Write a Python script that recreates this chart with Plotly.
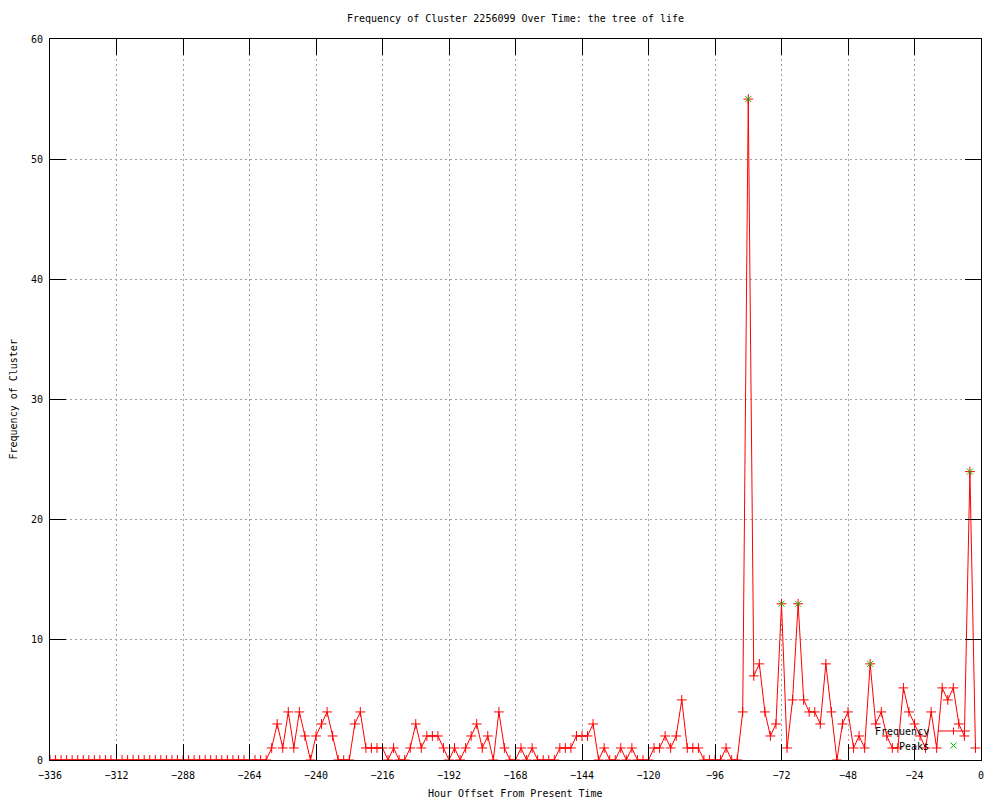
import plotly.graph_objects as go

# Hour offsets (every 2 hours, -336 .. -2)
hours = list(range(-336, 0, 2))

# Frequency of cluster per 2-hour bin
frequency = (
    [0] * 40 +
    [1, 3, 1, 4, 1, 4, 2, 0, 2, 3, 4, 2, 0, 0, 0, 3, 4, 1, 1, 1,
     1, 0, 1, 0, 0, 1, 3, 1, 2, 2, 2, 1, 0, 1, 0, 1, 2, 3, 1, 2,
     0, 4, 1, 0, 0, 1, 0, 1, 0, 0, 0, 0, 1, 1, 1, 2, 2, 2, 3, 0,
     1, 0, 0, 1, 0, 1, 0, 0, 0, 1, 1, 2, 1, 2, 5, 1, 1, 1, 0, 0,
     0, 0, 1, 0, 0, 4, 55, 7, 8, 4, 2, 3, 13, 1, 5, 13, 5, 4, 4, 3,
     8, 4, 0, 3, 4, 1, 2, 1, 8, 3, 4, 2, 1, 1, 6, 4, 3, 2, 1, 4,
     1, 6, 5, 6, 3, 2, 24, 1]
)

# Detected peaks
peak_hours = [-84, -72, -66, -40, -4]
peak_values = [55, 13, 13, 8, 24]

x_ticks = list(range(-336, 1, 24))
y_ticks = list(range(0, 61, 10))

FONT = "DejaVu Sans Mono"
RED = "#ff0000"
GREEN = "#00c000"

fig = go.Figure()
fig.add_trace(go.Scatter(
    x=hours, y=frequency, mode="lines+markers", name="Frequency",
    line=dict(color=RED, width=1),
    marker=dict(symbol="cross-thin", size=7, line=dict(color=RED, width=1), color=RED),
    showlegend=False,
))
fig.add_trace(go.Scatter(
    x=peak_hours, y=peak_values, mode="markers", name="Peaks",
    marker=dict(symbol="x-thin", size=6, line=dict(color=GREEN, width=1), color=GREEN),
    showlegend=False,
))

# The page body has an 8px margin; the figure is sized so that the
# screen plot area falls at x 50..981, y 39..760.
OFF = 8
FW, FH = 1000 - OFF, 800 - OFF
PX0, PX1, PY0, PY1 = 50 - OFF, 981 - OFF, 39 - OFF, 760 - OFF
PW, PH = PX1 - PX0, PY1 - PY0

axis_common = dict(
    showline=True, linecolor="black", linewidth=1, mirror="allticks",
    ticks="inside", ticklen=16, tickcolor="black", tickwidth=1,
    showgrid=True, gridcolor="#a0a0a0", gridwidth=1, griddash="2px,3px",
    zeroline=False, tickfont=dict(family=FONT, size=10, color="black"),
)

fig.update_layout(
    width=FW, height=FH,
    margin=dict(l=PX0, r=FW - PX1, t=PY0, b=FH - PY1, autoexpand=False),
    paper_bgcolor="white", plot_bgcolor="white",
    font=dict(family=FONT, size=10, color="black"),
    title=dict(text="Frequency of Cluster 2256099 Over Time: the tree of life",
               x=0.5, xref="paper", xanchor="center",
               y=1 - (18 - OFF) / FH, yref="container", yanchor="middle",
               font=dict(family=FONT, size=10, color="black")),
    xaxis=dict(range=[-336, 0], tickvals=x_ticks, ticklabelstandoff=6, **axis_common),
    yaxis=dict(range=[0, 60], tickvals=y_ticks, ticklabelstandoff=4, **axis_common),
    showlegend=False,
)

# axis titles
fig.add_annotation(text="Hour Offset From Present Time", xref="paper", yref="paper",
                   x=0.5, y=0, yshift=-(793 - 760), xanchor="center", yanchor="middle",
                   showarrow=False, font=dict(family=FONT, size=10, color="black"))
fig.add_annotation(text="Frequency of Cluster", xref="paper", yref="paper",
                   x=0, y=0.5, xshift=13 - 50, xanchor="center", yanchor="middle",
                   textangle=-90, showarrow=False,
                   font=dict(family=FONT, size=10, color="black"))

# gnuplot-style key (text left, sample right); positions in screen pixels
def px_x(p):
    return (p - 50) / PW

def px_y(p):
    return (760 - p) / PH

key_rows = [("Frequency", 731.5), ("Peaks", 746)]
for label, yy in key_rows:
    fig.add_annotation(text=label, xref="paper", yref="paper",
                       x=px_x(931), y=px_y(yy), xanchor="right", yanchor="middle",
                       showarrow=False, font=dict(family=FONT, size=10, color="black"))

# Frequency sample: line with + marker
fig.add_shape(type="line", xref="paper", yref="paper",
              x0=px_x(938), x1=px_x(970), y0=px_y(731), y1=px_y(731),
              line=dict(color=RED, width=1))
fig.add_shape(type="line", xref="paper", yref="paper",
              x0=px_x(953.5), x1=px_x(953.5), y0=px_y(727.5), y1=px_y(734.5),
              line=dict(color=RED, width=1))
# Peaks sample: green x
fig.add_shape(type="line", xref="paper", yref="paper",
              x0=px_x(950.5), x1=px_x(956.5), y0=px_y(742.5), y1=px_y(748.5),
              line=dict(color=GREEN, width=1))
fig.add_shape(type="line", xref="paper", yref="paper",
              x0=px_x(950.5), x1=px_x(956.5), y0=px_y(748.5), y1=px_y(742.5),
              line=dict(color=GREEN, width=1))

fig.write_html("out.html")
